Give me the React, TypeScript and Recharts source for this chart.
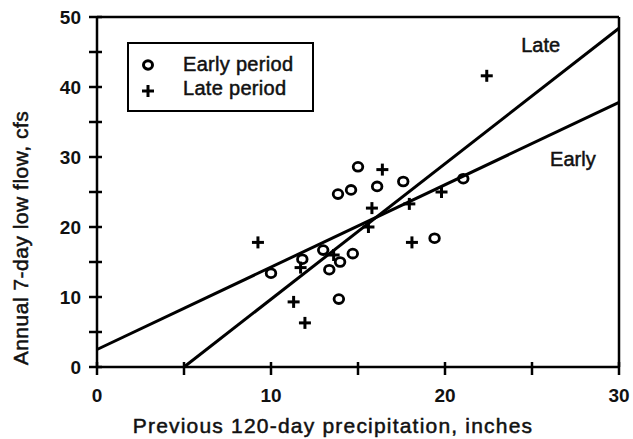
import React from 'react';
import { ComposedChart, Scatter, XAxis, YAxis, ReferenceLine, ReferenceDot } from 'recharts';

const earlyX = [10.0, 11.8, 13.0, 13.35, 13.97, 14.7, 13.9, 15.0, 13.85, 14.6, 16.1, 17.6, 21.05, 19.4];
const earlyY = [13.4, 15.4, 16.7, 13.9, 15.0, 16.2, 9.7, 28.6, 24.7, 25.3, 25.8, 26.5, 26.9, 18.4];
const lateX = [9.25, 11.3, 11.95, 11.7, 13.6, 15.6, 15.8, 16.4, 17.95, 18.1, 19.8, 22.4];
const lateY = [17.8, 9.3, 6.3, 14.2, 16.0, 20.0, 22.7, 28.2, 23.3, 17.8, 25.0, 41.6];

const earlyLine = [{ x: 0, y: 2.5 }, { x: 30, y: 37.8 }];
const lateLine = [{ x: 5, y: 0 }, { x: 30, y: 48.4 }];

const xTicks = [0, 5, 10, 15, 20, 25, 30];
const yTicks = [0, 5, 10, 15, 20, 25, 30, 35, 40, 45, 50];

const legendLabels = ['Early period', 'Late period'];

const earlyData = earlyX.map((x, i) => ({ x, y: earlyY[i] }));
const lateData = lateX.map((x, i) => ({ x, y: lateY[i] }));

const FONT = '"Liberation Sans", Arial, sans-serif';
const labelStyle: React.CSSProperties = { fontSize: 20, fontFamily: FONT };

const Circle = (p: any) => (
  <ellipse cx={p.cx} cy={p.cy} rx={4.8} ry={4.4} fill="none" stroke="#000" strokeWidth={2.8} />
);
const Plus = (p: any) => (
  <g stroke="#000" strokeWidth={3}>
    <line x1={p.cx - 6} y1={p.cy} x2={p.cx + 6} y2={p.cy} />
    <line x1={p.cx} y1={p.cy - 6} x2={p.cx} y2={p.cy + 6} />
  </g>
);

const YTick = (p: any) => {
  const v = p.payload.value;
  return (
    <g>
      <line x1={p.x - 8} y1={p.y} x2={p.x + 5} y2={p.y} stroke="#000" strokeWidth={2.5} />
      {v % 10 === 0 && (
        <text x={p.x - 16} y={p.y + 7} textAnchor="end" style={{ fontSize: 19, fontWeight: 700, fontFamily: FONT }} fill="#111">
          {v}
        </text>
      )}
    </g>
  );
};

const XTick = (p: any) => {
  const v = p.payload.value;
  return (
    <g>
      <line x1={p.x} y1={p.y - 5} x2={p.x} y2={p.y + 8} stroke="#000" strokeWidth={2.5} />
      {v % 10 === 0 && (
        <text x={p.x} y={p.y + 35} textAnchor="middle" style={{ fontSize: 19, fontWeight: 700, fontFamily: FONT }} fill="#111">
          {v}
        </text>
      )}
    </g>
  );
};

const LegendBox = () => (
  <div
    style={{
      position: 'absolute',
      left: 127,
      top: 42,
      width: 183,
      height: 66,
      border: '2.5px solid #000',
      fontFamily: FONT,
      fontSize: 20,
      letterSpacing: 0.3,
      color: '#111',
      WebkitTextStroke: '0.5px #111',
      boxSizing: 'content-box',
      background: '#fff',
    }}
  >
    <svg width={20} height={66} style={{ position: 'absolute', left: 11, top: 0 }}>
      <ellipse cx={8} cy={21} rx={4.5} ry={4.2} fill="none" stroke="#000" strokeWidth={3} />
      <g stroke="#000" strokeWidth={3}>
        <line x1={2} y1={47} x2={14} y2={47} />
        <line x1={8} y1={41} x2={8} y2={53} />
      </g>
    </svg>
    <div style={{ position: 'absolute', left: 54, top: 8, lineHeight: '24px' }}>{legendLabels[0]}</div>
    <div style={{ position: 'absolute', left: 54, top: 32, lineHeight: '24px' }}>{legendLabels[1]}</div>
  </div>
);

export default function App() {
  return (
    <div style={{ position: 'absolute', left: 0, top: 0, width: 633, height: 439, background: '#fff', overflow: 'hidden' }}>
      <ComposedChart width={633} height={439} margin={{ top: 17, right: 14, bottom: 42, left: 52 }}>
        <XAxis
          type="number"
          dataKey="x"
          domain={[0, 30]}
          ticks={xTicks}
          allowDataOverflow
          interval={0}
          tickSize={0}
          tickMargin={0}
          tickLine={false}
          tick={<XTick />}
          axisLine={{ stroke: '#000', strokeWidth: 2.5 }}
          height={30}
          label={{
            content: () => (
              <text
                x={333}
                y={433}
                textAnchor="middle"
                style={{ ...labelStyle, fontSize: 21, letterSpacing: 1.2 }}
                stroke="#111"
                strokeWidth={0.5}
                fill="#111"
              >
                Previous 120-day precipitation, inches
              </text>
            ),
          }}
        />
        <YAxis
          type="number"
          dataKey="y"
          domain={[0, 50]}
          ticks={yTicks}
          allowDataOverflow
          interval={0}
          tickSize={0}
          tickMargin={0}
          tickLine={false}
          tick={<YTick />}
          axisLine={{ stroke: '#000', strokeWidth: 2.5 }}
          width={45}
          label={{
            content: () => (
              <text
                x={28}
                y={238}
                transform="rotate(-90 28 238)"
                textAnchor="middle"
                style={{ ...labelStyle, fontSize: 21, letterSpacing: 0.5 }}
                stroke="#111"
                strokeWidth={0.5}
                fill="#111"
              >
                Annual 7-day low flow, cfs
              </text>
            ),
          }}
        />
        <ReferenceLine y={50} stroke="#000" strokeWidth={2.5} />
        <ReferenceLine x={30} stroke="#000" strokeWidth={2.5} />
        <ReferenceLine segment={[earlyLine[0], earlyLine[1]]} stroke="#000" strokeWidth={3} ifOverflow="visible" />
        <ReferenceLine segment={[lateLine[0], lateLine[1]]} stroke="#000" strokeWidth={3} ifOverflow="visible" />
        <Scatter name="Early period" data={earlyData} shape={<Circle />} isAnimationActive={false} />
        <Scatter name="Late period" data={lateData} shape={<Plus />} isAnimationActive={false} />
        <ReferenceDot
          x={25.5}
          y={46}
          r={0}
          fill="none"
          stroke="none"
          label={{ value: 'Late', position: 'center', style: labelStyle, fill: '#111', stroke: '#111', strokeWidth: 0.5 }}
        />
        <ReferenceDot
          x={27.35}
          y={29.7}
          r={0}
          fill="none"
          stroke="none"
          label={{ value: 'Early', position: 'center', style: labelStyle, fill: '#111', stroke: '#111', strokeWidth: 0.5 }}
        />
      </ComposedChart>
      <LegendBox />
    </div>
  );
}
